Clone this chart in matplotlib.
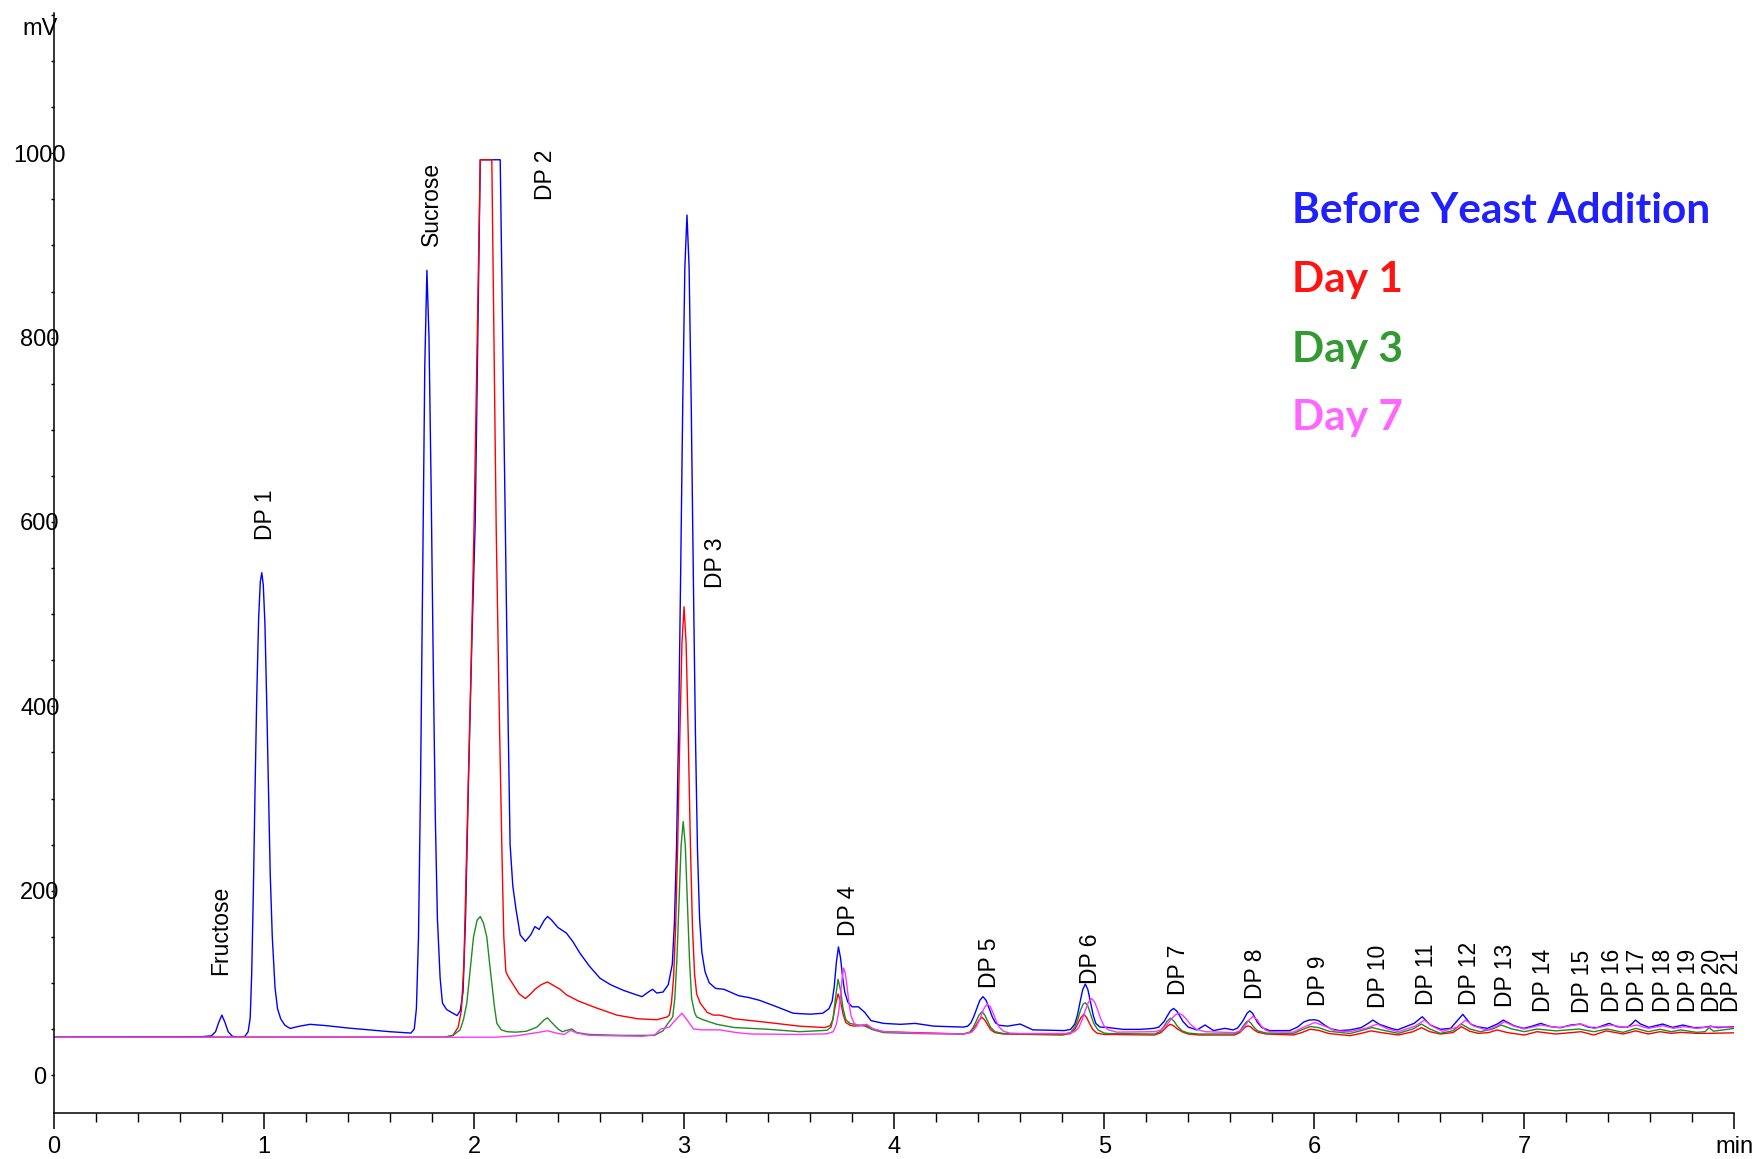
import matplotlib
matplotlib.use("Agg")
import matplotlib.pyplot as plt
from matplotlib.ticker import MultipleLocator, FixedLocator

# Retention time (min) / detector response (mV) vertices for each run
before_t = [
    0.00, 0.70, 0.75, 0.77, 0.785, 0.80, 0.815, 0.83, 0.85, 0.88,
    0.91, 0.925, 0.935, 0.942, 0.95, 0.958, 0.966, 0.975, 0.983, 0.99,
    0.997, 1.005, 1.013, 1.021, 1.03, 1.04, 1.053, 1.065, 1.08, 1.10,
    1.125, 1.17, 1.22, 1.30, 1.40, 1.50, 1.60, 1.70, 1.716, 1.726,
    1.736, 1.746, 1.756, 1.766, 1.776, 1.786, 1.796, 1.806, 1.816, 1.826,
    1.839, 1.85, 1.87, 1.90, 1.92, 1.935, 1.948, 1.96, 1.975, 1.99,
    2.006, 2.018, 2.03, 2.125, 2.137, 2.149, 2.16, 2.172, 2.185, 2.20,
    2.22, 2.245, 2.27, 2.29, 2.31, 2.335, 2.35, 2.37, 2.40, 2.44,
    2.47, 2.505, 2.55, 2.60, 2.65, 2.71, 2.76, 2.80, 2.83, 2.85,
    2.87, 2.90, 2.925, 2.944, 2.954, 2.964, 2.974, 2.984, 2.994, 3.004,
    3.014, 3.024, 3.034, 3.044, 3.054, 3.064, 3.074, 3.085, 3.10, 3.12,
    3.15, 3.19, 3.22, 3.26, 3.31, 3.36, 3.43, 3.52, 3.60, 3.66,
    3.69, 3.705, 3.715, 3.725, 3.735, 3.745, 3.755, 3.765, 3.78, 3.80,
    3.83, 3.86, 3.89, 3.95, 4.03, 4.10, 4.19,
    4.33, 4.35, 4.365, 4.378, 4.393, 4.408, 4.423, 4.438, 4.453, 4.468,
    4.483, 4.50, 4.54, 4.60, 4.66, 4.75, 4.81,
    4.84, 4.86, 4.8725, 4.885, 4.8975, 4.91, 4.9225, 4.935, 4.9475, 4.96,
    4.98, 5.013, 5.09, 5.17, 5.236,
    5.26, 5.285, 5.30, 5.315, 5.33, 5.345, 5.36, 5.375, 5.40, 5.442,
    5.48, 5.52, 5.574, 5.614,
    5.635, 5.655, 5.668, 5.68, 5.693, 5.706, 5.718, 5.73, 5.75, 5.788,
    5.883, 5.92, 5.95, 5.975, 6.00, 6.02, 6.05, 6.08, 6.12, 6.17,
    6.224, 6.255, 6.279, 6.31, 6.366, 6.395, 6.475, 6.514, 6.553, 6.601,
    6.649, 6.707, 6.744, 6.776, 6.824, 6.871, 6.90, 6.95, 6.997, 7.037,
    7.078, 7.125, 7.173, 7.22, 7.267, 7.307, 7.347, 7.403, 7.442, 7.49,
    7.514, 7.529, 7.553, 7.593, 7.658, 7.705, 7.755, 7.808, 7.855, 7.887,
    7.92, 8.00,
]
before_mv = [
    41, 41.5, 42.5, 47, 57, 65, 57, 47, 42, 41,
    42, 47, 62, 110, 200, 310, 410, 495, 535, 545,
    532, 490, 410, 320, 220, 150, 95, 72, 61, 54,
    50.5, 53, 55, 53.5, 51, 49, 47, 45.5, 50, 72,
    150, 320, 540, 770, 873, 800, 640, 450, 280, 170,
    105, 78, 71, 67, 64.5, 70, 90, 170, 330, 470,
    600, 800, 993, 993, 800, 600, 420, 250, 205, 180,
    152, 145, 152, 161, 158, 168, 172, 168, 160, 154,
    145, 132, 118, 105, 98, 92, 88, 85, 90, 93,
    89, 90, 98, 120, 164, 244, 373, 546, 731, 877,
    933, 877, 731, 546, 373, 244, 170, 133, 112, 100,
    94, 93, 90, 86, 84, 81, 75, 67, 66, 67,
    72, 80, 96, 122, 139, 127, 106, 90, 79, 74,
    74, 68, 59, 56, 55, 56, 53,
    52, 53, 56.5, 62.7, 72, 81, 85, 81, 72, 62.7,
    56.5, 54, 53, 55.3, 49, 48.5, 48.2,
    49.5, 55.3, 64.8, 79, 92.5, 98.7, 92.5, 79, 65, 56,
    52, 51.7, 49.5, 49.5, 50.6,
    52, 58, 64, 69.6, 72.2, 69.6, 64, 58, 52, 48.9,
    54.3, 48.2, 50.6, 48.9,
    51, 57, 62, 67, 69.6, 67, 62, 57, 51.5, 48.2,
    48.2, 52, 57.5, 59.6, 60, 59, 54, 50, 48.2, 48.9,
    51.5, 55.8, 59.6, 55, 50.6, 48.9, 56, 63.2, 54.2, 49.6,
    50.6, 65.8, 55.3, 52.4, 50.6, 55.3, 59.6, 53.5, 50.6, 53,
    56, 52.4, 51.4, 54.2, 55.3, 51.7, 51.4, 56, 52.4, 51.7,
    56, 59.6, 55.3, 51.7, 55.3, 51.7, 54.2, 51.4, 51.7, 53,
    51.4, 52.4,
]

day1_t = [
    0.00, 1.86, 1.90, 1.925, 1.94, 1.952, 1.965, 1.985, 2.00, 2.015,
    2.03, 2.085, 2.095, 2.106, 2.12, 2.133, 2.142, 2.152, 2.165, 2.19,
    2.215, 2.245, 2.27, 2.29, 2.32, 2.35, 2.38, 2.41, 2.44, 2.50,
    2.58, 2.68, 2.78, 2.87, 2.92, 2.93, 2.94, 2.95, 2.96, 2.97,
    2.98, 2.99, 3.00, 3.01, 3.02, 3.03, 3.04, 3.05, 3.06, 3.077,
    3.11, 3.14, 3.17, 3.24, 3.32, 3.40, 3.55,
    3.67, 3.695, 3.708, 3.72, 3.733, 3.745, 3.757, 3.77, 3.79, 3.81,
    3.86, 3.90, 3.95, 4.10,
    4.33, 4.36, 4.375, 4.39, 4.404, 4.418, 4.432, 4.446, 4.46, 4.48,
    4.52, 4.80,
    4.84, 4.86, 4.875, 4.89, 4.903, 4.916, 4.93, 4.945, 4.965, 5.00,
    5.24, 5.27, 5.29, 5.303, 5.316, 5.33, 5.345, 5.37, 5.40, 5.45,
    5.62, 5.645, 5.66, 5.673, 5.685, 5.697, 5.71, 5.73, 5.77, 5.90,
    5.94, 5.98, 6.02, 6.07, 6.17, 6.22,
    6.27, 6.32, 6.40, 6.47, 6.51, 6.55, 6.60, 6.66, 6.70, 6.74,
    6.78, 6.83, 6.87, 6.92, 7.00, 7.06, 7.15, 7.27, 7.33, 7.39,
    7.47, 7.53, 7.59, 7.645, 7.70, 7.745, 7.82, 7.88, 8.00,
]
day1_mv = [
    41, 41, 43, 52, 70, 120, 244, 430, 591, 790,
    993, 993, 800, 591, 400, 244, 150, 112, 106, 97,
    88, 83, 88, 93, 98, 101, 97, 93, 87, 80,
    73, 65, 61, 60, 63, 65, 78, 105, 161, 253,
    368, 468, 508, 468, 368, 253, 161, 110, 88, 78,
    68, 65, 65, 61, 59, 57, 53,
    51.5, 53.5, 60, 75, 88, 80, 66, 57, 54, 53,
    54.5, 50, 47, 46,
    44.5, 46, 49, 54, 59.5, 62.6, 59.5, 54, 49, 46,
    44.5, 43.4,
    45, 49.5, 56, 62.5, 66, 62.5, 56, 49.5, 45.5, 44,
    43.4, 46, 50.5, 53.5, 55, 53.5, 50.5, 47, 44.5, 43.4,
    43.4, 46, 49.5, 52.3, 53.3, 52.3, 49.5, 46.5, 44.5, 43.4,
    46, 49.7, 48.5, 45, 42.7, 45,
    47.9, 46, 43.4, 47, 51.4, 47, 44.5, 46, 52.4, 47.5,
    45.2, 46, 48.9, 46, 43.4, 47, 44.5, 47, 43.4, 47.9,
    44.5, 47.9, 44.5, 47, 45.2, 46.3, 45.2, 45.2, 45.8,
]

day3_t = [
    0.00, 1.86, 1.90, 1.934, 1.95, 1.966, 1.98, 1.998, 2.015, 2.03,
    2.045, 2.061, 2.075, 2.085, 2.097, 2.109, 2.13, 2.157, 2.20, 2.25,
    2.30, 2.335, 2.35, 2.37, 2.40, 2.42, 2.45, 2.465, 2.49, 2.55,
    2.70, 2.86, 2.90, 2.92, 2.946, 2.956, 2.966, 2.976, 2.986, 2.996,
    3.006, 3.016, 3.026, 3.036, 3.05, 3.06, 3.09, 3.156, 3.24, 3.40,
    3.55,
    3.68, 3.70, 3.71, 3.72, 3.733, 3.745, 3.757, 3.77, 3.79, 3.81,
    3.86, 3.90, 3.95, 4.10,
    4.33, 4.36, 4.375, 4.39, 4.404, 4.418, 4.432, 4.446, 4.46, 4.48,
    4.52, 4.80,
    4.84, 4.86, 4.874, 4.887, 4.90, 4.91, 4.922, 4.935, 4.95, 4.97,
    5.00, 5.02,
    5.24, 5.265, 5.285, 5.30, 5.316, 5.332, 5.348, 5.37, 5.40, 5.45,
    5.62, 5.645, 5.66, 5.672, 5.685, 5.698, 5.71, 5.73, 5.77, 5.90,
    5.94, 5.98, 6.02, 6.07, 6.17, 6.22, 6.275, 6.32, 6.40, 6.47,
    6.51, 6.55, 6.60, 6.66, 6.70, 6.74, 6.79, 6.85, 6.89, 6.94,
    7.00, 7.06, 7.15, 7.26, 7.33, 7.395, 7.47, 7.53, 7.59, 7.645,
    7.70, 7.745, 7.82, 7.86, 7.88, 7.90, 8.00,
]
day3_mv = [
    41, 41, 43, 49, 60, 78, 110, 150, 168, 172,
    165, 150, 120, 100, 75, 56, 49, 47, 46.5, 47.5,
    52, 60, 62, 57, 50, 47, 49, 50, 46, 44,
    43, 43, 48, 55, 63, 83, 125, 188, 249, 275,
    249, 188, 125, 83, 68, 63, 60, 55, 51.5, 49.6,
    47,
    48.5, 52, 62, 82, 104, 92, 72, 60, 56, 55,
    53, 49, 46, 45,
    44.5, 46.5, 51, 58, 65, 68.7, 65, 58, 51.5, 47,
    45, 44,
    46, 52, 60, 70, 77, 78.4, 75, 66, 56, 49,
    45.5, 45,
    44.5, 47, 53, 58.5, 61.7, 58.5, 53, 48, 45.5, 44.5,
    44.5, 47.5, 52.5, 56.5, 58.8, 56.5, 52.5, 48, 45.5, 45,
    49, 52.6, 51.5, 47.5, 45, 48, 51.5, 49, 45.2, 50,
    55.3, 50, 45.2, 48, 55.3, 50, 47, 50, 54.2, 50,
    47, 49.9, 47.9, 49.9, 47, 49.9, 46.3, 50.6, 47, 49.6,
    47, 48.9, 46.3, 47, 51.4, 47.5, 50.6,
]

day7_t = [
    0.00, 2.10, 2.20, 2.30, 2.35, 2.40, 2.43, 2.46, 2.49, 2.55,
    2.80, 2.86, 2.89, 2.93, 2.96, 2.99, 3.02, 3.045, 3.08, 3.17,
    3.25, 3.32, 3.55,
    3.68, 3.71, 3.725, 3.735, 3.745, 3.752, 3.76, 3.768, 3.775, 3.785,
    3.795, 3.81, 3.83, 3.87, 3.90, 3.95, 4.10,
    4.33, 4.37, 4.39, 4.405, 4.42, 4.432, 4.445, 4.458, 4.47, 4.485,
    4.50, 4.52, 4.55, 4.60, 4.82,
    4.86, 4.88, 4.895, 4.91, 4.925, 4.94, 4.955, 4.97, 4.985, 5.00,
    5.02, 5.06, 5.24,
    5.27, 5.30, 5.32, 5.34, 5.355, 5.37, 5.39, 5.41, 5.44, 5.48,
    5.62, 5.65, 5.67, 5.69, 5.709, 5.728, 5.748, 5.77, 5.79, 5.90,
    5.95, 6.003, 6.05, 6.10, 6.17, 6.25, 6.30, 6.35, 6.40, 6.48,
    6.525, 6.56, 6.61, 6.68, 6.72, 6.76, 6.82, 6.87, 6.905, 6.95,
    7.00, 7.08, 7.16, 7.27, 7.33, 7.41, 7.48, 7.535, 7.59, 7.66,
    7.71, 7.76, 7.82, 7.89, 8.00,
]
day7_mv = [
    41, 41, 42.5, 46, 48, 45, 44, 48.5, 45.5, 43,
    42, 43.5, 50, 52, 60, 67, 58, 50, 49, 49,
    46, 44.5, 44,
    44.7, 47, 55, 67, 86, 104, 116, 110, 98, 78,
    64, 56, 53, 55, 50, 47, 45.5,
    44.5, 46.5, 52, 59, 68, 74, 77, 74, 68, 59,
    52, 47.5, 45.5, 45, 45,
    47, 52, 60, 70, 79, 83, 79, 70, 60, 53,
    49, 46.5, 47,
    49, 55, 61, 65.5, 67, 65.5, 61, 55, 49.5, 47,
    46, 48, 53, 60, 63.5, 60, 53, 48.5, 47, 46.5,
    52, 57, 53, 48, 47, 51, 55.2, 50, 47, 53,
    59.6, 53, 47.5, 52, 59.6, 53, 48.9, 53, 57.8, 53,
    49.9, 54.2, 51.4, 55.3, 50.6, 54.2, 51.7, 54.2, 50.6, 53.5,
    50.6, 52.4, 50.6, 52.4, 51.7,
]

series_names = ["Before Yeast Addition", "Day 1", "Day 3", "Day 7"]
line_colors = ["#0000FF", "#FF0000", "#1E8C1E", "#FF33FF"]
legend_colors = ["#2020FF", "#FF1414", "#339933", "#FF66FF"]

# Peak annotations: name, retention time, bottom of the rotated label (mV)
peak_names = ["Fructose", "DP 1", "Sucrose", "DP 2", "DP 3", "DP 4", "DP 5",
              "DP 6", "DP 7", "DP 8", "DP 9", "DP 10", "DP 11", "DP 12",
              "DP 13", "DP 14", "DP 15", "DP 16", "DP 17", "DP 18", "DP 19",
              "DP 20", "DP 21"]
peak_label_t = [0.795, 1.009, 1.80, 2.339, 3.148, 3.783, 4.455, 4.934, 5.355,
                5.72, 6.02, 6.307, 6.534, 6.74, 6.91, 7.09, 7.275, 7.42, 7.54,
                7.66, 7.78, 7.895, 7.985]
peak_label_mv = [109, 581, 899, 949, 528, 151, 94, 98.7, 86.8, 82, 74.8, 72.3,
                 75.9, 75.9, 73.4, 68.7, 67.6, 68.7, 68.7, 68.7, 68.7, 68.7, 68.7]

plt.rcParams['font.family'] = ['Liberation Sans', 'DejaVu Sans']

fig = plt.figure(figsize=(17.58, 11.59), dpi=100)
ax = fig.add_axes([0.0306, 0.0397, 0.9560, 0.9489])

runs = [(before_t, before_mv), (day1_t, day1_mv), (day3_t, day3_mv), (day7_t, day7_mv)]
for (t, mv), color in zip(runs, line_colors):
    ax.plot(t, mv, color=color, lw=1.0, solid_joinstyle='round')

# Rotated peak names
for name, t, mv in zip(peak_names, peak_label_t, peak_label_mv):
    ax.text(t, mv, name, rotation=90, ha='center', va='bottom', fontsize=16.5)

# Run legend as coloured text
legend_y = [924, 849, 774, 700]
for name, color, y in zip(series_names, legend_colors, legend_y):
    ax.text(5.894, y, name, color=color, fontsize=30.5, fontweight='bold',
            family=['Lato', 'DejaVu Sans'], ha='left', va='baseline')

ax.set_xlim(0, 8)
ax.set_ylim(-41.2, 1152)

for side in ('top', 'right'):
    ax.spines[side].set_visible(False)
for side in ('left', 'bottom'):
    ax.spines[side].set_linewidth(1.1)

ax.xaxis.set_major_locator(FixedLocator(range(9)))
ax.xaxis.set_minor_locator(MultipleLocator(0.2))
ax.set_xticklabels([str(i) for i in range(8)] + ['min'])
ax.tick_params(axis='x', which='major', direction='out', length=11.5, width=1.1,
               labelsize=17, pad=5)
ax.tick_params(axis='x', which='minor', direction='out', length=6.5, width=1.0)

ax.yaxis.set_major_locator(FixedLocator([0, 200, 400, 600, 800, 1000]))
ax.yaxis.set_minor_locator(MultipleLocator(50))
ax.tick_params(axis='y', which='both', direction='out', length=2.5, width=1.0)
ax.tick_params(axis='y', which='major', labelsize=17, pad=7.5)
for lbl in ax.get_yticklabels():
    lbl.set_horizontalalignment('center')

fig.text(40 / 1758, 1 - 29 / 1159, "mV", ha='center', va='center', fontsize=17)

fig.savefig("out.png", dpi=100, facecolor='white')
